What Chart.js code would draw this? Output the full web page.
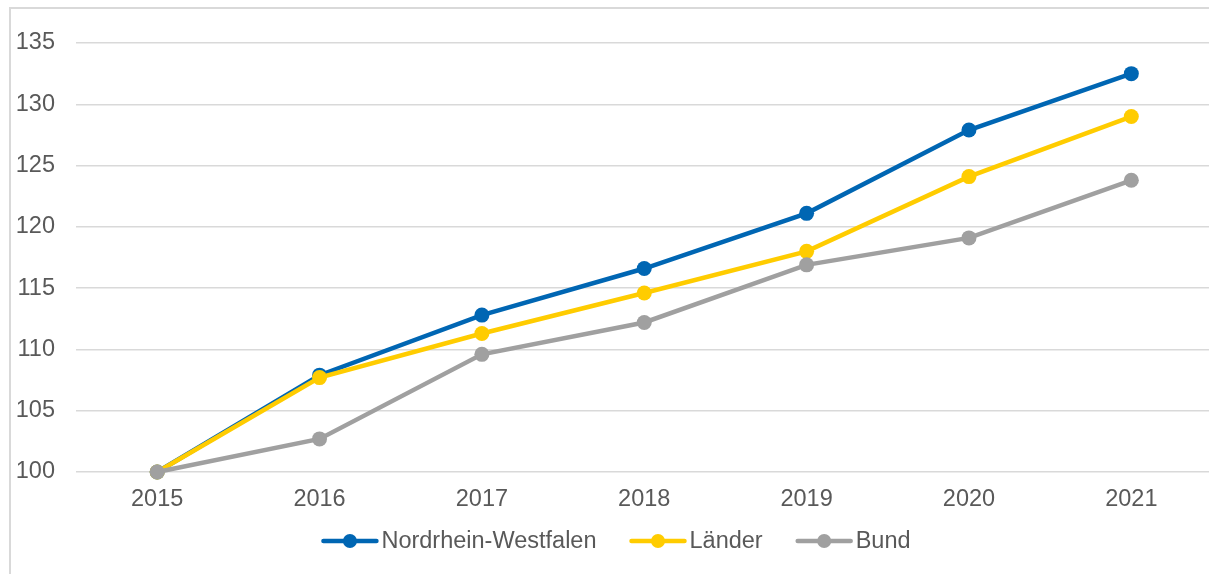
<!DOCTYPE html>
<html>
<head>
<meta charset="utf-8">
<script src="https://cdn.jsdelivr.net/npm/chart.js@4.4.1/dist/chart.umd.min.js"></script>
<style>
  html, body { margin: 0; padding: 0; background: #fff; overflow: hidden; }
  #wrap { position: relative; width: 1209px; height: 574px; overflow: hidden; }
  #chart { position: absolute; left: 0; top: 0; }
</style>
</head>
<body>
<div id="wrap"><canvas id="chart" width="1220" height="574"></canvas></div>
<script>
// ── Data ─────────────────────────────────────────
const years = ['2015', '2016', '2017', '2018', '2019', '2020', '2021'];
const nrw = [100, 107.9, 112.8, 116.6, 121.1, 127.9, 132.5];
const laender = [100, 107.7, 111.3, 114.6, 118.0, 124.1, 129.0];
const bund = [100, 102.7, 109.6, 112.2, 116.9, 119.1, 123.8];

const Y_MIN = 100;
const Y_MAX = 135;
const Y_STEP = 5;

const TEXT = '#595959';
const GRID = '#d9d9d9';
const FONT = { family: '"Liberation Sans", Arial, sans-serif', size: 23.5 };

function series(label, data, color, order) {
  return {
    label,
    data,
    borderColor: color,
    backgroundColor: color,
    borderWidth: 4.5,
    pointRadius: 7.5,
    pointHoverRadius: 7.5,
    pointBorderWidth: 0,
    tension: 0,
    clip: false,
    order,
  };
}

// ── Frame + legend drawn by hand (line with marker) ──
const frameAndLegend = {
  id: 'frameAndLegend',
  beforeDraw(chart) {
    const ctx = chart.ctx;
    ctx.save();
    ctx.strokeStyle = GRID;
    ctx.lineWidth = 2;
    ctx.beginPath();
    ctx.moveTo(10, chart.height + 5);
    ctx.lineTo(10, 8);
    ctx.lineTo(chart.width + 5, 8);
    ctx.stroke();
    ctx.restore();
  },
  afterDraw(chart) {
    const ctx = chart.ctx;
    const sets = [0, 1, 2].map((i) => chart.data.datasets[i]);
    const lineLen = 57, gapText = 3, gapItem = 33, y = 541;
    ctx.save();
    ctx.font = `${FONT.size}px ${FONT.family}`;
    ctx.textBaseline = 'middle';
    const widths = sets.map((d) => lineLen + gapText + ctx.measureText(d.label).width);
    const total = widths.reduce((a, b) => a + b, 0) + gapItem * (sets.length - 1);
    let x = 616 - total / 2;
    sets.forEach((d, i) => {
      ctx.strokeStyle = d.borderColor;
      ctx.lineWidth = 4.5;
      ctx.lineCap = 'round';
      ctx.beginPath();
      ctx.moveTo(x + 2, y);
      ctx.lineTo(x + lineLen - 2, y);
      ctx.stroke();
      ctx.fillStyle = d.borderColor;
      ctx.beginPath();
      ctx.arc(x + lineLen / 2, y, 7, 0, Math.PI * 2);
      ctx.fill();
      ctx.fillStyle = TEXT;
      ctx.fillText(d.label, x + lineLen + gapText, y + 1);
      x += widths[i] + gapItem;
    });
    ctx.restore();
  },
};

new Chart(document.getElementById('chart').getContext('2d'), {
  type: 'line',
  data: {
    labels: years,
    datasets: [
      series('Nordrhein-Westfalen', nrw, '#0066b3', 2),
      series('Länder', laender, '#ffcc00', 1),
      series('Bund', bund, '#a0a0a0', 0),
    ],
  },
  options: {
    responsive: false,
    animation: false,
    layout: { padding: { left: 10, right: 6, top: 43, bottom: 0 } },
    plugins: {
      legend: { display: false },
      tooltip: { enabled: false },
    },
    scales: {
      x: {
        offset: true,
        grid: { display: false, drawTicks: false },
        border: { display: false },
        ticks: { color: TEXT, font: FONT, padding: 13, maxRotation: 0 },
        afterFit: (s) => { s.height = 102; },
      },
      y: {
        min: Y_MIN,
        max: Y_MAX,
        grid: { color: GRID, lineWidth: 1.5, drawTicks: false },
        border: { display: false },
        ticks: { stepSize: Y_STEP, color: TEXT, font: FONT, padding: 21 },
        afterFit: (s) => { s.width = 66; },
      },
    },
  },
  plugins: [frameAndLegend],
});
</script>
</body>
</html>
